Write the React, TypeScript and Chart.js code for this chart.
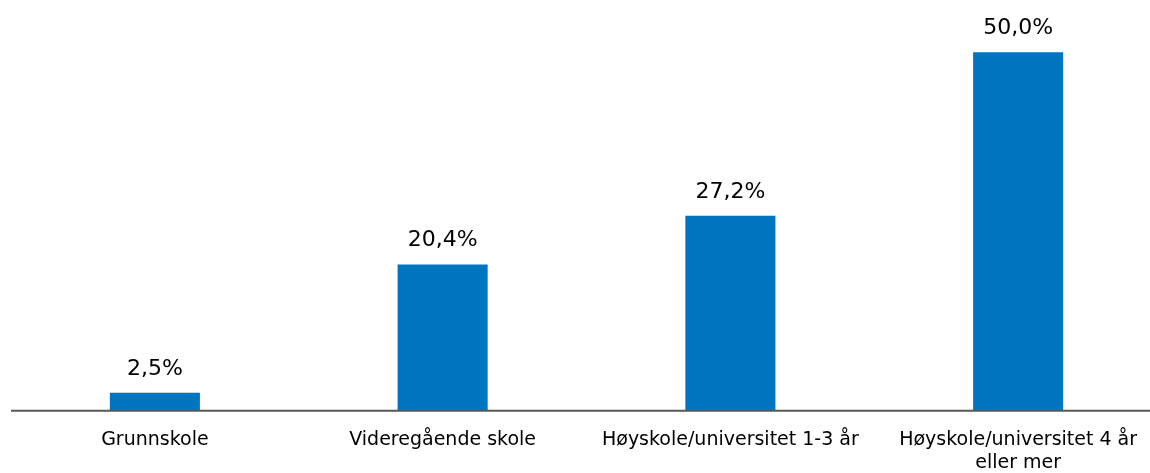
import React, { useEffect, useRef } from "react";
import { Chart, registerables } from "chart.js";

Chart.register(...registerables);

const categories: (string | string[])[] = [
  "Grunnskole",
  "Videregående skole",
  "Høyskole/universitet 1-3 år",
  ["Høyskole/universitet 4 år", "eller mer"],
];
const values: number[] = [2.5, 20.4, 27.2, 50.0];

const FONT = "'DejaVu Sans', sans-serif";
const BAR_COLOR = "#0075BF";

const fmt = (v: number) => v.toFixed(1).replace(".", ",") + "%";

const labelPlugin = {
  id: "valueLabels",
  afterDatasetsDraw(chart: any) {
    const ctx = chart.ctx;
    const meta = chart.getDatasetMeta(0);
    ctx.save();
    ctx.font = `22px ${FONT}`;
    ctx.fillStyle = "#000000";
    ctx.textAlign = "center";
    ctx.textBaseline = "alphabetic";
    meta.data.forEach((bar: any, i: number) => {
      ctx.fillText(fmt(values[i]), bar.x, bar.y - 18);
    });
    ctx.restore();
  },
};

const baselinePlugin = {
  id: "baseline",
  afterDatasetsDraw(chart: any) {
    const ctx = chart.ctx;
    const { left, right, bottom } = chart.chartArea;
    ctx.save();
    ctx.strokeStyle = "#595959";
    ctx.lineWidth = 2;
    ctx.beginPath();
    ctx.moveTo(left, bottom);
    ctx.lineTo(right, bottom);
    ctx.stroke();
    ctx.restore();
  },
};

export default function App() {
  const ref = useRef<HTMLCanvasElement | null>(null);
  useEffect(() => {
    if (!ref.current) return;
    const chart = new Chart(ref.current, {
      type: "bar",
      data: {
        labels: categories,
        datasets: [
          {
            data: values,
            backgroundColor: BAR_COLOR,
            barPercentage: 0.313,
            categoryPercentage: 1,
          },
        ],
      },
      options: {
        animation: false,
        responsive: true,
        maintainAspectRatio: false,
        layout: { padding: { left: 11, right: 1, top: 0, bottom: 0 } },
        plugins: {
          legend: { display: false },
          tooltip: { enabled: false },
        },
        scales: {
          x: {
            grid: { display: false, drawTicks: false },
            border: { display: false },
            ticks: {
              color: "#000000",
              font: { family: FONT, size: 19, lineHeight: 1.22 },
              padding: 18,
              maxRotation: 0,
              autoSkip: false,
            },
          },
          y: {
            display: false,
            min: 0,
            max: 57.3,
          },
        },
      },
      plugins: [labelPlugin, baselinePlugin],
    });
    return () => chart.destroy();
  }, []);
  return (
    <div
      style={{
        position: "fixed",
        left: 0,
        top: 0,
        width: 1150,
        height: 473,
        overflow: "hidden",
        background: "#ffffff",
      }}
    >
      <div style={{ position: "relative", width: 1163, height: 493 }}>
        <canvas ref={ref} />
      </div>
    </div>
  );
}
